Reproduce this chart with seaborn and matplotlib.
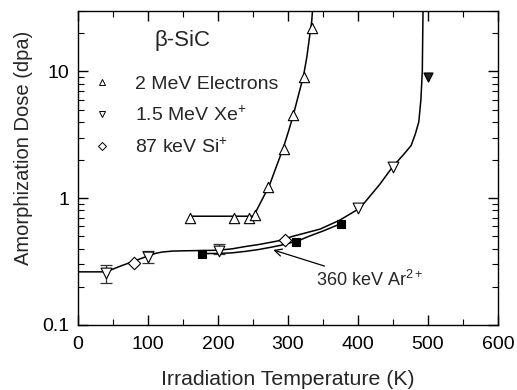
import numpy as np
import pandas as pd
import matplotlib
matplotlib.use("Agg")
import matplotlib.pyplot as plt
import seaborn as sns
from matplotlib.lines import Line2D
from matplotlib.ticker import MultipleLocator, LogLocator, NullFormatter, FixedLocator, FixedFormatter

# ---- data ----
elec_T = [160, 223, 244, 253, 271, 294, 307, 323, 334]
elec_D = [0.70, 0.70, 0.70, 0.73, 1.22, 2.45, 4.55, 9.0, 22.0]

xe_T = [40, 100, 201, 400, 450]
xe_D = [0.255, 0.345, 0.385, 0.83, 1.75]
xe_err_lo = [0.04, 0.035, 0.025, 0, 0]
xe_err_hi = [0.04, 0.04, 0.05, 0, 0]
xe_hi_T = [500]
xe_hi_D = [9.0]

si_T = [80, 296]
si_D = [0.305, 0.47]

ar_T = [177, 311, 376]
ar_D = [0.365, 0.45, 0.63]

# fitted curves
elec_curve_T = [160, 250, 253, 262, 273, 283, 293, 301, 308, 315, 322, 327, 331, 334, 335]
elec_curve_D = [0.72, 0.72, 0.76, 0.95, 1.24, 1.75, 2.46, 3.4, 4.6, 6.5, 9.1, 13.0, 19.0, 25.0, 30.0]

xe_curve_T = [0, 40, 60, 81, 100, 112, 121, 135, 150, 176, 200, 220, 239, 260, 286, 307, 330, 346,
              374, 403, 431, 450, 465, 476, 482, 487, 490, 492, 493]
xe_curve_D = [0.262, 0.262, 0.29, 0.32, 0.35, 0.368, 0.376, 0.382, 0.384, 0.386, 0.388, 0.398, 0.415,
              0.432, 0.46, 0.50, 0.54, 0.57, 0.67, 0.835, 1.28, 1.78, 2.2, 2.6, 3.2, 4.0, 6.0, 10.0, 30.0]

ar_curve_T = [177, 200, 220, 239, 258, 276, 290, 304, 311, 330, 350, 376]
ar_curve_D = [0.365, 0.366, 0.370, 0.38, 0.393, 0.41, 0.425, 0.445, 0.452, 0.50, 0.55, 0.63]

xticks = [0, 100, 200, 300, 400, 500, 600]
yticks = [0.1, 1, 10]
ytick_labels = ["0.1", "1", "10"]

# ---- style ----
sns.set_style("ticks")
plt.rcParams['font.family'] = ['Liberation Sans', 'DejaVu Sans']
plt.rcParams['mathtext.fontset'] = 'custom'
plt.rcParams['mathtext.rm'] = 'Liberation Sans'
plt.rcParams['mathtext.it'] = 'Liberation Sans'

fig = plt.figure(figsize=(5.17, 3.90), dpi=100)
ax = fig.add_axes([0.151, 0.167, 0.812, 0.805])

lw = 1.1
sns.lineplot(x=elec_curve_T, y=elec_curve_D, sort=False, estimator=None, color="black", lw=lw, ax=ax)
sns.lineplot(x=xe_curve_T, y=xe_curve_D, sort=False, estimator=None, color="black", lw=lw, ax=ax)
sns.lineplot(x=ar_curve_T, y=ar_curve_D, sort=False, estimator=None, color="black", lw=lw, ax=ax)

ax.errorbar(xe_T[:3], xe_D[:3], yerr=[xe_err_lo[:3], xe_err_hi[:3]], fmt="none",
            ecolor="#333333", elinewidth=0.9, capsize=4, capthick=0.9, zorder=3)

sns.scatterplot(x=elec_T, y=elec_D, marker="^", s=55, facecolor="white", edgecolor="black",
                linewidth=0.8, ax=ax, zorder=4)
sns.scatterplot(x=xe_T, y=xe_D, marker="v", s=60, facecolor="white", edgecolor="black",
                linewidth=0.8, ax=ax, zorder=4)
sns.scatterplot(x=xe_hi_T, y=xe_hi_D, marker="v", s=40, facecolor="#222222", edgecolor="black",
                linewidth=1.0, ax=ax, zorder=4)
sns.scatterplot(x=si_T, y=si_D, marker="D", s=40, facecolor="white", edgecolor="black",
                linewidth=0.8, ax=ax, zorder=4)
sns.scatterplot(x=ar_T, y=ar_D, marker="s", s=40, facecolor="black", edgecolor="black",
                linewidth=0.8, ax=ax, zorder=5)

ax.set_yscale("log")
ax.set_xlim(0, 600)
ax.set_ylim(0.1, 30)

ax.xaxis.set_major_locator(FixedLocator(xticks))
ax.xaxis.set_minor_locator(MultipleLocator(50))
ax.yaxis.set_major_locator(FixedLocator(yticks))
ax.yaxis.set_major_formatter(FixedFormatter(ytick_labels))
ax.yaxis.set_minor_locator(LogLocator(base=10, subs=np.arange(2, 10)))
ax.yaxis.set_minor_formatter(NullFormatter())

ax.tick_params(which="both", direction="in", top=True, right=True, colors="black", labelsize=14)
ax.tick_params(which="major", length=7, width=1)
ax.tick_params(which="minor", length=4, width=0.8)
ax.tick_params(axis="x", pad=8)
ax.tick_params(axis="y", pad=6)
for s in ax.spines.values():
    s.set_linewidth(1.0)
    s.set_color("black")

ax.set_xlabel("Irradiation Temperature (K)", fontsize=15.3)
ax.set_ylabel("Amorphization Dose (dpa)", fontsize=14.5)
ax.xaxis.set_label_coords(0.5, -0.145)
ax.yaxis.set_label_coords(-0.107, 0.564)

handles = [
    Line2D([], [], ls="none", marker="^", ms=5, mfc="white", mec="black", mew=0.7),
    Line2D([], [], ls="none", marker="v", ms=5, mfc="white", mec="black", mew=0.7),
    Line2D([], [], ls="none", marker="D", ms=4.5, mfc="white", mec="black", mew=0.7),
]
labels = ["2 MeV Electrons", "1.5 MeV Xe$^{+}$", "87 keV Si$^{+}$"]
leg = ax.legend(handles, labels, loc="upper left", bbox_to_anchor=(0.033, 0.796),
                frameon=False, fontsize=14, handlelength=1.0, borderpad=0, borderaxespad=0,
                handletextpad=1.2, labelspacing=0.65)
ax.text(0.248, 0.905, "β-SiC", transform=ax.transAxes, fontsize=16, ha="center", va="center")

ax.annotate("360 keV Ar$^{2+}$", xy=(279, 0.39), xytext=(340, 0.225), fontsize=13,
            va="center", ha="left",
            arrowprops=dict(arrowstyle="->", color="black", lw=0.9, shrinkA=2, shrinkB=0))

fig.savefig("out.png", dpi=100)
